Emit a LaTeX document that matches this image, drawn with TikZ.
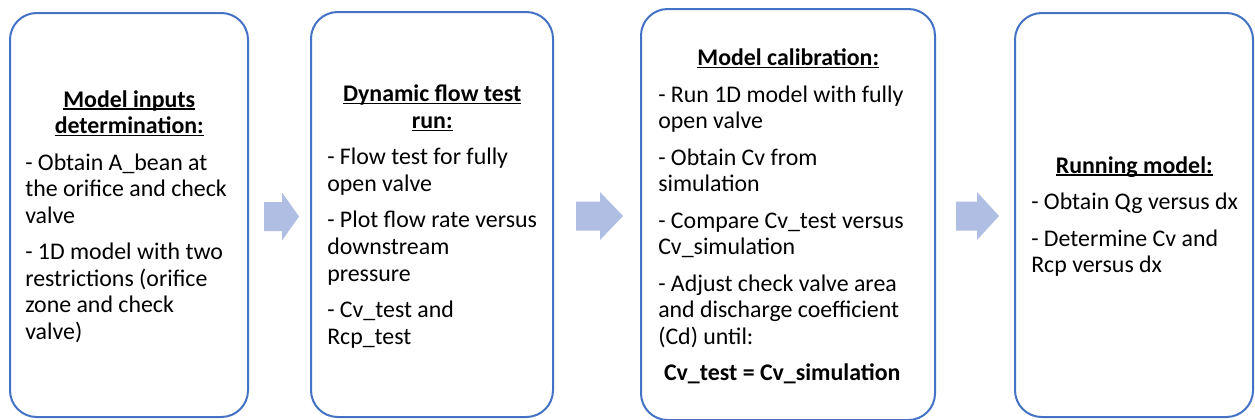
\documentclass[tikz,border=0pt]{standalone}
\usepackage{fontspec}
\setmainfont{Carlito}
\usetikzlibrary{calc}
\definecolor{boxblue}{HTML}{4472C4}
\definecolor{arrowfill}{HTML}{B0BEE3}
\newcommand{\hdline}[2]{\makebox[#1][c]{\setbox0\hbox{\bfseries #2}\rlap{\rule[-1.9pt]{\wd0}{0.95pt}}\box0}}
\newcommand{\barrow}[3]{\fill[arrowfill] (#1) ++(0,-14.5) -- ++(#2,0) -- ++(0,-9.5) -- ++(#3,24) -- ++(-#3,24) -- ++(0,-9.5) -- ++(-#2,0) -- cycle;}
\begin{document}
\begin{tikzpicture}[x=0.75pt,y=-0.75pt,
  box/.style={draw=boxblue, line width=1.5pt, fill=white, rounded corners=20pt, rectangle, inner sep=0pt},
  txt/.style={align=left, inner sep=0pt, font=\fontsize{17.9}{19.9}\selectfont, anchor=west}]
\useasboundingbox (0,0) rectangle (1255,419);
\fill[white] (0,0) rectangle (1255,419);
\node[box, minimum width=178.5pt, minimum height=303pt] (b1) at (129,215) {};
\node[box, minimum width=181.5pt, minimum height=303.75pt] (b2) at (432,214.5) {};
\node[box, minimum width=220.5pt, minimum height=308.25pt] (b3) at (788,214.5) {};
\node[box, minimum width=178.5pt, minimum height=303pt] (b4) at (1134,215) {};
\node[txt] (t1) at (25,216.5) {\hdline{156pt}{Model inputs}\\\hdline{156pt}{determination:}\\[7.5pt]
- Obtain A\_bean at\\the orifice and check\\valve\\[7.5pt]
- 1D model with two\\restrictions (orifice\\zone and check\\valve)};
\node[txt] (t2) at (327,216.5) {\hdline{157.5pt}{Dynamic flow test}\\\hdline{157.5pt}{run:}\\[7.5pt]
- Flow test for fully\\open valve\\[7.5pt]
- Plot flow rate versus\\downstream\\pressure\\[7.5pt]
- Cv\_test and\\Rcp\_test};
\node[txt] (t3) at (658,216.5) {\hdline{195pt}{Model calibration:}\\[7.5pt]
- Run 1D model with fully\\open valve\\[7.5pt]
- Obtain Cv from\\simulation\\[7.5pt]
- Compare Cv\_test versus\\Cv\_simulation\\[7.5pt]
- Adjust check valve area\\and discharge coefficient\\(Cd) until:\\[7.5pt]
\makebox[186pt][c]{\bfseries Cv\_test = Cv\_simulation}};
\node[txt] (t4) at (1031,216.5) {\hdline{154.5pt}{Running model:}\\[7.5pt]
- Obtain Qg versus dx\\[7.5pt]
- Determine Cv and\\Rcp versus dx};
\coordinate (a1) at ($(b1.east)+(15,1.5)$);
\coordinate (a2) at ($(b2.east)+(22,1.5)$);
\coordinate (a3) at ($(b3.east)+(20,1.5)$);
\barrow{a1}{18}{17}
\barrow{a2}{24}{23}
\barrow{a3}{21}{22}
\end{tikzpicture}
\end{document}
